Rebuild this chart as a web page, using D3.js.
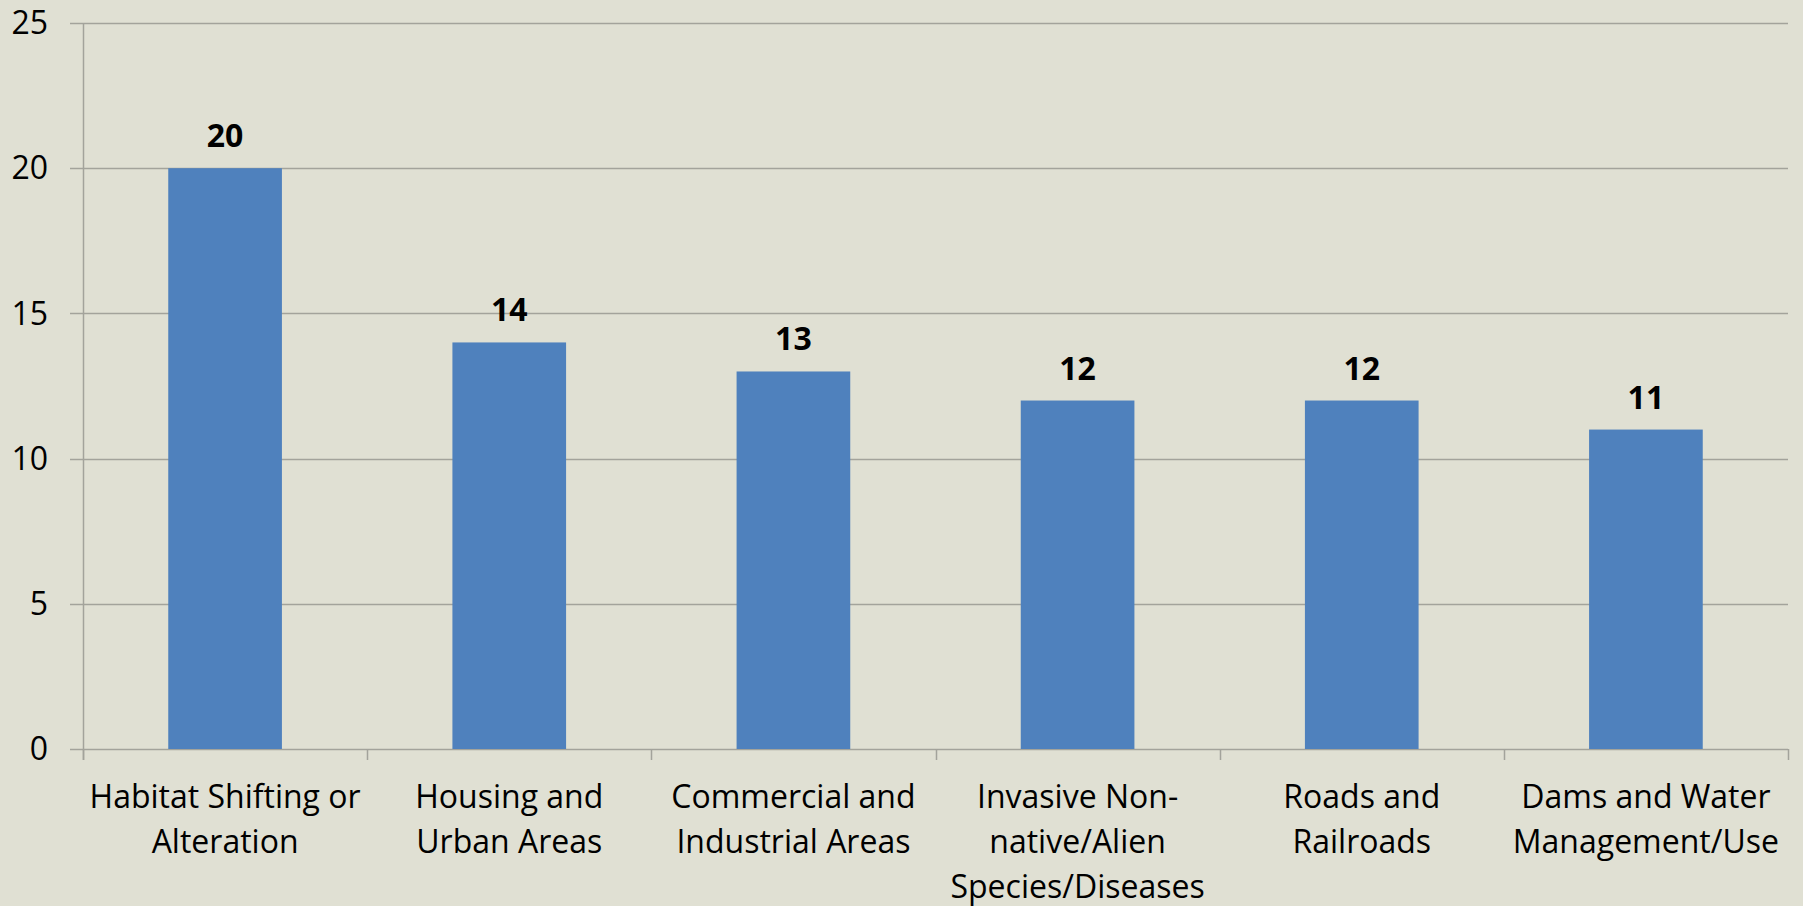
<!DOCTYPE html>
<html>
<head>
<meta charset="utf-8">
<script src="https://cdn.jsdelivr.net/npm/d3@7"></script>
<style>
  html, body { margin: 0; padding: 0; background: #e0e0d3; }
  svg { display: block; }
  text { font-family: "Open Sans", Lato, sans-serif; fill: #000; }
</style>
</head>
<body>
<svg id="chart" width="1803" height="906"></svg>
<script>
// Threat categories (line breaks mark where each axis label wraps)
const categories = [
  "Habitat Shifting or\nAlteration",
  "Housing and\nUrban Areas",
  "Commercial and\nIndustrial Areas",
  "Invasive Non-\nnative/Alien\nSpecies/Diseases",
  "Roads and\nRailroads",
  "Dams and Water\nManagement/Use"
];
const counts = [20, 14, 13, 12, 12, 11];
const yTicks = [0, 5, 10, 15, 20, 25];

const W = 1803, H = 906;
const margin = { left: 83, right: 15, top: 23, bottom: 157 };
const svg = d3.select("#chart");

const x = d3.scaleBand()
  .domain(categories)
  .range([margin.left, W - margin.right])
  .paddingInner(0.6)
  .paddingOuter(0.3);

const y = d3.scaleLinear()
  .domain([0, 25])
  .range([H - margin.bottom, margin.top]);

const gridColor = "#a3a39b";
const fontSize = 32;

// horizontal gridlines with short outward ticks on the left
svg.append("g")
  .selectAll("line")
  .data(yTicks)
  .join("line")
  .attr("x1", margin.left - 13)
  .attr("x2", W - margin.right)
  .attr("y1", d => Math.round(y(d)) + 0.5)
  .attr("y2", d => Math.round(y(d)) + 0.5)
  .attr("stroke", gridColor)
  .attr("stroke-width", 1.5);

// y tick labels
svg.append("g")
  .selectAll("text")
  .data(yTicks)
  .join("text")
  .attr("x", 48)
  .attr("y", d => y(d))
  .attr("dy", "0.35em")
  .attr("text-anchor", "end")
  .attr("font-size", fontSize)
  .text(d => d);

// vertical axis line
svg.append("line")
  .attr("x1", margin.left + 0.5).attr("x2", margin.left + 0.5)
  .attr("y1", y(25)).attr("y2", y(0) + 11)
  .attr("stroke", gridColor)
  .attr("stroke-width", 1.5);

// category boundary ticks below the baseline
const bounds = d3.range(categories.length + 1).map(i => margin.left + i * (W - margin.right - margin.left) / categories.length);
svg.append("g")
  .selectAll("line")
  .data(bounds)
  .join("line")
  .attr("x1", d => Math.round(d) + 0.5)
  .attr("x2", d => Math.round(d) + 0.5)
  .attr("y1", y(0))
  .attr("y2", y(0) + 11)
  .attr("stroke", gridColor)
  .attr("stroke-width", 1.5);

// bars
svg.append("g")
  .selectAll("rect")
  .data(counts)
  .join("rect")
  .attr("x", (d, i) => x(categories[i]))
  .attr("width", x.bandwidth())
  .attr("y", d => y(d))
  .attr("height", d => y(0) - y(d))
  .attr("fill", "#4f81bd");

// value labels above bars
svg.append("g")
  .selectAll("text")
  .data(counts)
  .join("text")
  .attr("x", (d, i) => x(categories[i]) + x.bandwidth() / 2)
  .attr("y", d => y(d) - 21)
  .attr("text-anchor", "middle")
  .attr("font-size", fontSize)
  .attr("font-weight", "bold")
  .text(d => d);

// category labels
const labels = svg.append("g")
  .selectAll("text")
  .data(categories)
  .join("text")
  .attr("text-anchor", "middle")
  .attr("font-size", fontSize)
  .attr("transform", d => `translate(${x(d) + x.bandwidth() / 2},${y(0) + 59})`);
labels.selectAll("tspan")
  .data(d => d.split("\n"))
  .join("tspan")
  .attr("x", 0)
  .attr("y", (d, i) => i * 45)
  .text(d => d);
</script>
</body>
</html>
